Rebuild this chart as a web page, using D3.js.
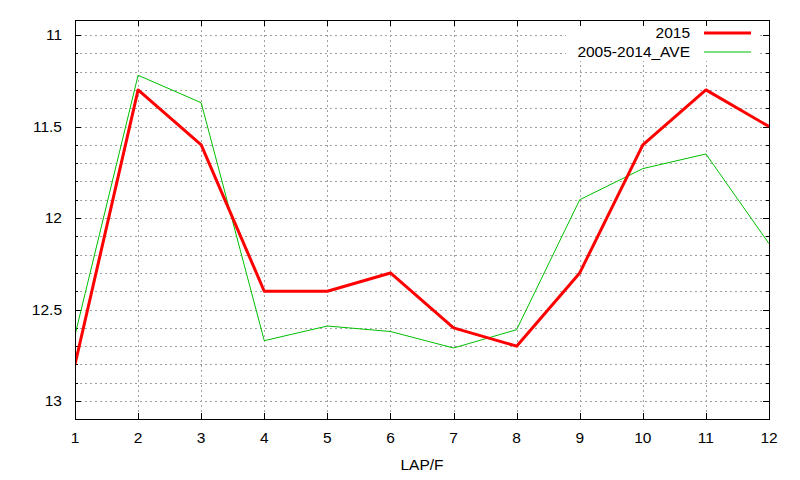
<!doctype html>
<html lang="en">
<head>
<meta charset="UTF-8">
<title>LAP/F</title>
<style>
  body { margin: 0; background: #fff; }
  svg { display: block; font-family: "Liberation Sans", Arial, sans-serif; }
  .grid line { stroke: #a0a0a0; stroke-width: 1; stroke-dasharray: 2 3; }
  .tick-label { font-size: 15.5px; fill: #000; }
</style>
</head>
<body>
<div class="chart"></div>
<script src="https://d3js.org/d3.v7.min.js"></script>
<script>
  const laps = [1, 2, 3, 4, 5, 6, 7, 8, 9, 10, 11, 12]
  const year2015 = [12.8, 11.3, 11.6, 12.4, 12.4, 12.3, 12.6, 12.7, 12.3, 11.6, 11.3, 11.5]
  const ave2005to2014 = [12.64, 11.22, 11.37, 12.67, 12.59, 12.62, 12.71, 12.61, 11.9, 11.73, 11.65, 12.14]
  const yMajorTicks = [11, 11.5, 12, 12.5, 13]
  const yMinorTicks = [11, 11.1, 11.2, 11.3, 11.4, 11.5, 11.6, 11.7, 11.8, 11.9, 12,
    12.1, 12.2, 12.3, 12.4, 12.5, 12.6, 12.7, 12.8, 12.9, 13]
  const seriesNames = ['2015', '2005-2014_AVE']

  const width = 800
  const height = 480
  const plotLeft = 75, plotRight = 769, plotTop = 20, plotBottom = 419

  const x = d3.scaleLinear().domain([1, 12]).range([plotLeft, plotRight])
  const y = d3.scaleLinear().domain([10.918, 13.098]).range([plotTop, plotBottom])

  const svg = d3.select('.chart')
    .append('svg')
    .attr('width', width)
    .attr('height', height)

  // grid
  const grid = svg.append('g').classed('grid', true)
  grid.selectAll('.gx')
    .data(laps.slice(1, -1))
    .enter().append('line')
    .attr('x1', d => Math.round(x(d)) + 0.5).attr('x2', d => Math.round(x(d)) + 0.5)
    .attr('y1', plotTop).attr('y2', plotBottom)
  grid.selectAll('.gy')
    .data(yMinorTicks)
    .enter().append('line')
    .attr('x1', plotLeft).attr('x2', plotRight)
    .attr('y1', d => Math.round(y(d)) + 0.5).attr('y2', d => Math.round(y(d)) + 0.5)

  // legend background hides the grid under the key
  svg.append('rect')
    .attr('x', 566).attr('y', plotTop + 1)
    .attr('width', 194).attr('height', 40)
    .attr('fill', '#fff')

  // ticks (inward, mirrored)
  const ticks = svg.append('g').attr('stroke', '#000').attr('stroke-width', 1)
  yMinorTicks.forEach(v => {
    const len = yMajorTicks.includes(v) ? 6 : 3
    const py = Math.round(y(v)) + 0.5
    ticks.append('line').attr('x1', plotLeft).attr('x2', plotLeft + len).attr('y1', py).attr('y2', py)
    ticks.append('line').attr('x1', plotRight).attr('x2', plotRight - len).attr('y1', py).attr('y2', py)
  })
  laps.forEach(v => {
    const px = Math.round(x(v)) + 0.5
    ticks.append('line').attr('x1', px).attr('x2', px).attr('y1', plotBottom).attr('y2', plotBottom - 6)
    ticks.append('line').attr('x1', px).attr('x2', px).attr('y1', plotTop).attr('y2', plotTop + 6)
  })

  // tick labels
  svg.append('g').selectAll('text')
    .data(yMajorTicks)
    .enter().append('text')
    .classed('tick-label', true)
    .attr('x', 62)
    .attr('y', d => y(d))
    .attr('dy', '0.35em')
    .attr('text-anchor', 'end')
    .text(d => d)

  svg.append('g').selectAll('text')
    .data(laps)
    .enter().append('text')
    .classed('tick-label', true)
    .attr('x', d => x(d))
    .attr('y', 438)
    .attr('dy', '0.35em')
    .attr('text-anchor', 'middle')
    .text(d => d)

  svg.append('text')
    .classed('tick-label', true)
    .attr('x', (plotLeft + plotRight) / 2)
    .attr('y', 465)
    .attr('dy', '0.35em')
    .attr('text-anchor', 'middle')
    .text('LAP/F')

  // lines
  const line = d3.line().x((d, i) => x(laps[i])).y(d => y(d))
  svg.append('clipPath').attr('id', 'plot-clip')
    .append('rect')
    .attr('x', plotLeft).attr('y', plotTop)
    .attr('width', plotRight - plotLeft).attr('height', plotBottom - plotTop)

  svg.append('path')
    .datum(ave2005to2014)
    .attr('clip-path', 'url(#plot-clip)')
    .attr('fill', 'none')
    .attr('stroke', '#00c000')
    .attr('stroke-width', 1)
    .attr('d', line)

  svg.append('path')
    .datum(year2015)
    .attr('clip-path', 'url(#plot-clip)')
    .attr('fill', 'none')
    .attr('stroke', '#ff0000')
    .attr('stroke-width', 3)
    .attr('stroke-linejoin', 'round')
    .attr('d', line)

  // legend
  const legend = svg.append('g')
  const legendStyles = [
    {color: '#ff0000', w: 3, y: 33},
    {color: '#00c000', w: 1, y: 52}
  ]
  seriesNames.forEach((name, i) => {
    legend.append('text')
      .classed('tick-label', true)
      .attr('x', 690)
      .attr('y', legendStyles[i].y)
      .attr('dy', '0.35em')
      .attr('text-anchor', 'end')
      .text(name)
    legend.append('line')
      .attr('x1', 704).attr('x2', 751)
      .attr('y1', legendStyles[i].y).attr('y2', legendStyles[i].y)
      .attr('stroke', legendStyles[i].color)
      .attr('stroke-width', legendStyles[i].w)
  })

  // frame
  svg.append('rect')
    .attr('x', plotLeft + 0.5).attr('y', plotTop + 0.5)
    .attr('width', plotRight - plotLeft).attr('height', plotBottom - plotTop)
    .attr('fill', 'none')
    .attr('stroke', '#000')
    .attr('stroke-width', 1)
</script>
</body>
</html>
